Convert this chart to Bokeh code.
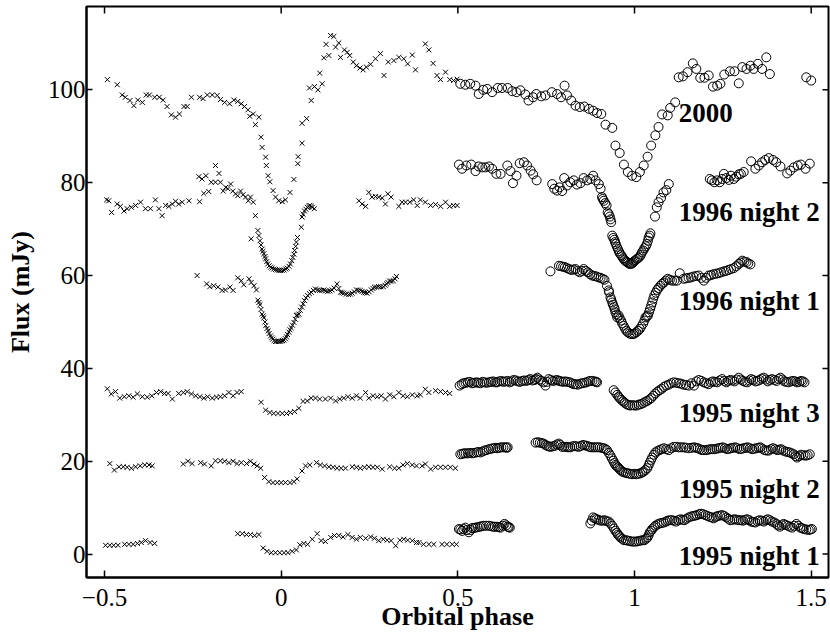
from bokeh.plotting import figure
from bokeh.models import ColumnDataSource, FixedTicker, Label, Range1d
from bokeh.embed import file_html
from bokeh.resources import INLINE

# ---------------- data: (orbital phase, flux mJy) ----------------
# 2000
y2000_cross = [(-0.492,102.2),(-0.464,101.1),(-0.450,98.9),(-0.441,98.4),(-0.428,97.7),(-0.417,96.6),(-0.406,97.8),(-0.393,97.3),(-0.382,98.9),(-0.373,98.9),(-0.358,98.4),(-0.345,98.4),(-0.334,97.8),(-0.323,96.4),(-0.311,94.6),(-0.299,94.1),(-0.288,94.8),(-0.275,96.4),(-0.266,96.4),(-0.254,98.4),(-0.231,98.4),(-0.221,98.1),(-0.209,98.9),(-0.195,98.9),(-0.181,98.8),(-0.172,97.9),(-0.160,97.3),(-0.146,97.0),(-0.134,97.8),(-0.123,97.5),(-0.113,97.0),(-0.104,96.4),(-0.094,95.7),(-0.089,94.3),(-0.079,94.8),(-0.073,92.5),(-0.063,94.1),(-0.057,89.8),(-0.054,87.6),(-0.044,85.5),(-0.042,83.7),(-0.037,81.5),(-0.032,80.2),(-0.023,78.3),(-0.016,76.9),(-0.007,76.1),(0.003,75.9),(0.012,76.3),(0.025,77.9),(0.036,80.7),(0.047,84.1),(0.048,85.6),(0.059,88.5),(0.059,92.8),(0.072,93.8),(0.085,97.7),(0.080,100.4),(0.094,100.7),(0.104,100.0),(0.109,103.6),(0.116,101.3),(0.121,106.9),(0.127,109.8),(0.135,107.4),(0.140,111.7),(0.149,111.5),(0.154,109.2),(0.163,110.1),(0.168,107.0),(0.179,108.6),(0.187,108.1),(0.194,107.4),(0.204,106.0),(0.213,105.2),(0.223,104.7),(0.232,104.3),(0.241,104.9),(0.253,105.5),(0.267,106.7),(0.281,107.8),(0.291,103.1),(0.303,106.0),(0.319,106.3),(0.333,107.0),(0.347,106.7),(0.358,105.6),(0.371,107.5),(0.380,104.3),(0.408,109.9),(0.418,108.6),(0.430,105.7),(0.441,103.1),(0.451,102.2),(0.465,103.8),(0.477,102.2),(0.488,102.0),(0.498,102.3)]
y2000_circle = [(0.507,101.3),(0.521,101.1),(0.535,101.3),(0.550,100.9),(0.559,99.1),(0.572,100.0),(0.583,100.2),(0.597,99.5),(0.613,100.4),(0.625,100.4),(0.641,100.4),(0.654,99.7),(0.666,99.5),(0.677,99.9),(0.691,99.0),(0.700,97.7),(0.713,98.4),(0.722,99.1),(0.736,98.6),(0.748,98.8),(0.766,99.5),(0.781,99.1),(0.792,98.4),(0.802,100.9),(0.809,98.8),(0.821,97.7),(0.833,96.6),(0.845,96.3),(0.858,96.4),(0.871,95.9),(0.883,95.5),(0.894,95.0),(0.906,94.8),(0.918,92.5),(0.937,91.8),(0.946,88.0),(0.958,86.4),(0.970,83.9),(0.981,82.3),(0.993,81.5),(1.005,81.2),(1.015,82.3),(1.026,83.7),(1.037,85.6),(1.047,88.0),(1.059,90.2),(1.068,92.0),(1.078,94.7),(1.094,94.5),(1.101,96.1),(1.115,97.3),(1.125,102.7),(1.137,102.9),(1.150,103.8),(1.165,105.7),(1.175,104.5),(1.186,102.6),(1.198,102.6),(1.210,103.1),(1.222,100.7),(1.234,100.9),(1.243,101.3),(1.254,103.3),(1.270,104.0),(1.283,104.0),(1.295,101.4),(1.305,104.9),(1.317,104.5),(1.328,105.2),(1.337,104.5),(1.349,105.6),(1.361,104.5),(1.373,107.0),(1.383,103.4),(1.486,102.7),(1.500,102.0)]

# 1996 night 2
n962_cross = [(-0.494,76.3),(-0.488,76.1),(-0.480,73.6),(-0.464,75.4),(-0.455,74.9),(-0.445,73.9),(-0.436,74.4),(-0.424,74.7),(-0.412,75.1),(-0.398,75.8),(-0.384,74.4),(-0.370,74.4),(-0.356,76.3),(-0.346,74.4),(-0.337,72.9),(-0.327,75.1),(-0.318,74.9),(-0.308,75.4),(-0.299,76.0),(-0.290,75.4),(-0.280,75.8),(-0.261,76.1),(-0.231,75.9),(-0.233,81.3),(-0.224,80.8),(-0.219,77.7),(-0.213,81.5),(-0.205,78.1),(-0.198,80.1),(-0.186,83.7),(-0.176,82.0),(-0.186,80.1),(-0.172,80.1),(-0.164,78.2),(-0.157,79.0),(-0.151,78.7),(-0.143,79.7),(-0.137,78.2),(-0.129,77.6),(-0.123,77.2),(-0.115,78.2),(-0.108,77.4),(-0.101,76.9),(-0.093,76.1),(-0.087,76.9),(-0.079,75.8),(-0.073,72.9),(-0.085,67.9),(-0.066,69.7),(-0.063,68.6),(-0.060,67.5),(-0.054,65.7),(-0.049,64.7),(-0.044,63.6),(-0.038,62.5),(-0.030,61.8),(-0.021,61.4),(-0.011,61.2),(-0.002,61.1),(0.008,61.2),(0.017,61.6),(0.026,62.5),(0.033,63.9),(0.038,65.4),(0.043,67.2),(0.057,70.4),(0.059,72.6),(0.066,73.9),(0.074,74.7),(0.081,75.1),(0.088,74.7),(0.094,74.4),(0.220,76.1),(0.229,75.4),(0.239,74.9),(0.248,77.9),(0.257,76.9),(0.267,77.0),(0.276,76.9),(0.286,76.7),(0.295,75.4),(0.302,77.6),(0.311,76.9),(0.333,74.9),(0.342,75.8),(0.352,75.8),(0.364,75.8),(0.375,76.3),(0.385,75.1),(0.394,76.3),(0.408,75.8),(0.423,75.1),(0.437,75.3),(0.451,74.9),(0.465,75.8),(0.477,74.9),(0.488,75.1),(0.498,75.1),
              (-0.057,66.6),(-0.052,65.2),(-0.046,64.1),(-0.041,63.0),(-0.034,62.1),(-0.026,61.6),(-0.016,61.3),(-0.006,61.1),(0.003,61.1),(0.013,61.4),(0.022,62.0),(0.030,63.2),(0.036,64.6),(0.041,66.3),(0.046,68.2),(0.062,73.2),(0.070,74.3),(0.078,74.9),(0.085,74.9)]
n962_circle = [(0.503,83.9),(0.512,83.0),(0.524,83.7),(0.538,83.9),(0.550,82.5),(0.559,83.5),(0.569,83.3),(0.578,83.3),(0.588,83.5),(0.597,83.0),(0.609,81.9),(0.621,81.9),(0.640,83.7),(0.649,82.5),(0.656,79.9),(0.666,81.5),(0.675,84.2),(0.687,84.4),(0.696,83.7),(0.706,82.6),(0.713,81.8),(0.723,80.5),(0.767,79.7),(0.773,78.7),(0.781,78.3),(0.788,79.0),(0.795,78.2),(0.801,81.0),(0.809,79.4),(0.818,80.1),(0.828,80.5),(0.837,79.6),(0.847,79.9),(0.856,81.0),(0.866,80.5),(0.875,80.8),(0.883,81.5),(0.890,80.5),(0.899,79.7),(0.904,78.7),(0.908,76.9),(0.913,76.1),(0.921,75.1),(0.924,73.6),(0.930,72.7),(0.934,71.5),(0.937,68.6),(0.943,67.7),(0.947,66.8),(0.953,65.7),(0.958,64.8),(0.965,64.1),(0.971,63.4),(0.979,62.9),(0.986,62.5),(0.993,62.6),(0.999,63.1),(1.007,63.6),(1.015,64.1),(1.021,65.0),(1.028,65.9),(1.035,66.8),(1.040,68.2),(1.045,69.1),(1.058,72.7),(1.063,74.7),(1.068,75.8),(1.075,76.7),(1.082,77.9),(1.090,78.4),(1.097,79.7),(1.213,80.8),(1.219,80.5),(1.226,80.1),(1.234,80.5),(1.241,80.1),(1.248,80.8),(1.253,81.9),(1.260,81.0),(1.267,80.6),(1.273,81.5),(1.281,80.8),(1.288,81.3),(1.295,81.8),(1.301,81.9),(1.309,82.3),(1.330,84.6),(1.342,83.0),(1.352,83.7),(1.361,84.4),(1.370,84.9),(1.380,85.3),(1.392,84.9),(1.401,84.4),(1.413,83.5),(1.432,82.0),(1.441,82.6),(1.451,83.3),(1.462,83.7),(1.471,83.9),(1.484,83.0),(1.496,84.1),
               (0.940,68.1),(0.945,67.2),(0.950,66.2),(0.956,65.2),(0.962,64.4),(0.968,63.7),(0.975,63.1),(0.982,62.7),(0.990,62.5),(0.996,62.8),(1.003,63.3),(1.011,63.8),(1.018,64.5),(1.025,65.4),(1.032,66.3),(1.038,67.5),(1.043,68.6),(0.910,76.5),(0.917,75.6),(0.927,73.2),(0.932,72.1)]

# 1996 night 1
n961_cross = [(-0.238,60.0),(-0.211,58.2),(-0.202,57.6),(-0.191,57.8),(-0.179,57.5),(-0.167,56.8),(-0.158,56.9),(-0.145,57.5),(-0.136,56.8),(-0.123,59.5),(-0.113,58.9),(-0.106,58.0),(-0.091,59.3),(-0.085,58.5),(-0.077,57.8),(-0.070,56.9),(-0.066,54.7),(-0.060,53.7),(-0.054,51.7),(-0.049,50.9),(-0.044,49.2),(-0.037,48.1),(-0.030,47.0),(-0.024,46.3),(-0.016,45.8),(-0.007,45.8),(0.001,45.9),(0.008,46.1),(0.015,46.8),(0.022,47.8),(0.028,48.8),(0.036,49.9),(0.043,51.4),(0.050,51.7),(0.058,53.2),(0.066,54.6),(0.075,55.7),(0.085,56.4),(0.097,57.1),(0.109,56.8),(0.121,56.9),(0.132,56.6),(0.144,56.9),(0.158,58.2),(0.168,56.4),(0.177,56.2),(0.191,55.9),(0.201,56.2),(0.213,56.9),(0.224,56.8),(0.234,56.4),(0.243,56.2),(0.255,56.9),(0.264,57.5),(0.276,57.6),(0.289,57.6),(0.298,58.2),(0.307,58.8),(0.317,58.9),(0.326,59.8),
              (-0.063,54.2),(-0.057,52.7),(-0.051,51.3),(-0.046,50.0),(-0.040,48.6),(-0.034,47.5),(-0.027,46.6),(-0.020,46.0),(-0.012,45.8),(-0.003,45.8),(0.004,46.0),(0.012,46.4),(0.018,47.3),(0.025,48.3),(0.032,49.3),(0.040,50.6),(0.046,51.5),(0.054,52.5),(0.062,53.9),(0.070,55.2),(0.080,56.1),(0.091,56.8),(0.103,56.9),(0.115,56.8),(0.126,56.7),(0.138,56.7),(0.150,57.3),(0.163,57.2),(0.172,56.3),(0.184,56.0),(0.196,56.0),(0.207,56.5),(0.218,56.8),(0.229,56.6),(0.238,56.3),(0.249,56.5),(0.260,57.2),(0.270,57.5),(0.282,57.6),(0.294,57.9),(0.302,58.5),(0.312,58.8),(0.322,59.3)]
n961_circle = [(0.762,60.9),(0.786,62.1),(0.798,61.9),(0.809,61.6),(0.821,61.2),(0.833,61.4),(0.845,60.7),(0.856,61.4),(0.868,60.7),(0.880,60.0),(0.892,59.8),(0.904,59.5),(0.915,59.1),(0.922,57.8),(0.928,56.4),(0.932,55.3),(0.937,54.2),(0.942,53.2),(0.946,52.1),(0.951,51.0),(0.955,51.4),(0.962,50.3),(0.969,49.2),(0.977,48.1),(0.986,47.5),(0.996,47.4),(1.005,47.8),(1.015,48.5),(1.024,49.6),(1.031,51.0),(1.038,51.4),(1.044,52.8),(1.050,54.2),(1.056,55.7),(1.064,56.9),(1.073,57.8),(1.083,58.5),(1.094,59.3),(1.106,58.9),(1.120,58.9),(1.128,60.5),(1.139,59.3),(1.153,59.5),(1.167,59.8),(1.182,60.0),(1.196,58.9),(1.210,60.0),(1.224,60.3),(1.238,60.5),(1.253,60.9),(1.266,61.2),(1.281,61.6),(1.295,62.5),(1.305,63.2),(1.317,62.9),(1.328,62.4),
               (0.927,56.8),(0.934,54.8),(0.939,53.7),(0.944,52.7),(0.949,51.6),(0.958,50.8),(0.965,49.7),(0.973,48.6),(0.981,47.8),(0.991,47.4),(1.000,47.5),(1.010,48.1),(1.019,49.0),(1.028,50.3),(1.035,51.2),(1.041,52.1),(1.047,53.5),(1.053,55.0),(1.060,56.3),(1.068,57.3),(1.078,58.2),(1.088,58.9),(0.792,62.0),(0.803,61.8),(0.815,61.4),(0.827,61.3),(0.839,61.0),(0.851,61.0),(0.862,61.0),(0.874,60.3),(0.886,59.9),(0.898,59.6),(0.910,59.3),(1.100,59.1),(1.113,58.9),(1.146,59.4),(1.160,59.6),(1.175,59.9),(1.189,59.5),(1.203,59.5),(1.217,60.1),(1.231,60.4),(1.245,60.7),(1.259,61.0),(1.273,61.4),(1.288,62.0),(1.300,62.8),(1.311,63.0),(1.322,62.6)]

# 1995 night 3
n953_cross = [(-0.492,35.6),(-0.481,34.5),(-0.469,35.0),(-0.457,33.6),(-0.444,33.9),(-0.431,34.1),(-0.419,33.8),(-0.407,34.5),(-0.393,33.9),(-0.379,33.8),(-0.366,34.1),(-0.353,34.8),(-0.341,35.0),(-0.330,34.6),(-0.320,34.6),(-0.308,33.4),(-0.290,34.6),(-0.277,34.8),(-0.266,35.0),(-0.254,34.5),(-0.242,34.1),(-0.230,33.9),(-0.219,33.6),(-0.208,33.9),(-0.195,33.6),(-0.183,33.8),(-0.172,33.9),(-0.160,34.1),(-0.148,34.8),(-0.136,34.1),(-0.125,34.8),(-0.113,35.0),(-0.057,32.7),(-0.044,31.0),(-0.032,30.5),(-0.021,30.3),(-0.009,30.3),(0.003,30.3),(0.015,30.3),(0.026,30.5),(0.038,30.7),(0.050,31.4),(0.062,32.9),(0.074,33.0),(0.085,33.6),(0.097,33.6),(0.109,33.4),(0.125,33.4),(0.140,33.6),(0.154,33.0),(0.166,33.4),(0.177,33.6),(0.189,33.9),(0.201,33.6),(0.213,34.1),(0.224,33.6),(0.239,34.8),(0.248,33.6),(0.260,34.1),(0.272,33.9),(0.283,34.1),(0.295,33.4),(0.307,34.3),(0.319,33.9),(0.333,34.8),(0.345,34.1),(0.357,33.9),(0.371,34.3),(0.385,34.1),(0.394,34.3),(0.408,35.5),(0.418,34.8),(0.437,35.2),(0.451,35.0),(0.465,34.8),(0.477,34.6)]
n953_circle = [(0.505,36.3),(0.516,36.8),(0.528,37.0),(0.540,36.8),(0.553,37.0),(0.564,36.8),(0.575,37.0),(0.588,37.0),(0.600,37.2),(0.611,37.0),(0.623,37.3),(0.635,37.2),(0.647,37.0),(0.658,37.5),(0.670,37.2),(0.682,37.3),(0.694,37.3),(0.705,37.7),(0.717,37.5),(0.725,38.0),(0.736,37.3),(0.748,36.3),(0.757,37.7),(0.769,37.3),(0.781,37.5),(0.792,37.2),(0.804,37.2),(0.817,37.0),(0.828,36.6),(0.839,36.5),(0.852,36.8),(0.864,37.0),(0.875,37.3),(0.887,37.2),(0.894,37.0),(0.941,35.3),(0.951,34.3),(0.958,33.6),(0.968,32.9),(0.977,32.3),(0.988,32.0),(1.000,32.0),(1.012,32.2),(1.024,32.5),(1.036,33.0),(1.047,33.6),(1.059,34.6),(1.071,35.3),(1.083,36.0),(1.097,36.5),(1.111,37.0),(1.125,36.8),(1.139,36.5),(1.154,36.3),(1.168,36.3),(1.182,37.5),(1.196,37.0),(1.210,36.6),(1.222,37.2),(1.234,37.0),(1.248,37.7),(1.260,37.0),(1.271,37.5),(1.283,37.2),(1.295,38.0),(1.307,37.3),(1.319,37.0),(1.330,37.7),(1.342,37.2),(1.354,37.5),(1.366,38.0),(1.377,37.2),(1.389,37.7),(1.402,37.3),(1.413,38.0),(1.424,37.2),(1.436,37.0),(1.449,37.3),(1.460,37.0),(1.471,37.3),(1.481,37.0),
               (0.511,36.6),(0.522,36.9),(0.534,37.1),(0.546,36.9),(0.558,36.9),(0.570,37.1),(0.581,36.9),(0.594,37.1),(0.606,37.0),(0.617,37.2),(0.629,37.1),(0.641,37.3),(0.652,37.2),(0.664,37.4),(0.676,37.1),(0.688,37.4),(0.700,37.5),(0.711,37.4),(0.721,37.7),(0.731,37.6),(0.742,37.0),(0.752,37.1),(0.763,37.5),(0.775,37.4),(0.787,37.3),(0.798,37.1),(0.810,37.1),(0.822,36.8),(0.834,36.6),(0.846,36.7),(0.858,36.9),(0.870,37.2),(0.881,37.3),(0.891,37.1),
               (0.946,34.8),(0.955,33.9),(0.963,33.2),(0.972,32.6),(0.983,32.1),(0.994,32.1),(1.006,32.0),(1.018,32.3),(1.030,32.8),(1.042,33.3),(1.053,34.1),(1.065,35.0),(1.077,35.6),(1.090,36.3),(1.104,36.8),(1.118,36.9),(1.132,36.7),(1.146,36.4),(1.161,36.8),(1.175,37.2),(1.189,37.3),(1.203,36.8),(1.216,37.0),(1.228,37.1),(1.241,37.4),(1.254,37.3),(1.265,37.3),(1.277,37.4),(1.289,37.6),(1.301,37.6),(1.313,37.1),(1.325,37.4),(1.336,37.5),(1.348,37.3),(1.360,37.8),(1.372,37.6),(1.383,37.5),(1.396,37.5),(1.408,37.7),(1.419,37.6),(1.430,37.1),(1.443,37.2),(1.455,37.2),(1.466,37.1),(1.476,37.2)]

# 1995 night 2
n952_cross = [(-0.485,19.5),(-0.472,18.1),(-0.459,18.8),(-0.447,18.8),(-0.436,18.7),(-0.424,18.5),(-0.412,18.8),(-0.399,19.0),(-0.386,19.2),(-0.374,19.2),(-0.365,19.0),(-0.277,19.4),(-0.264,20.0),(-0.252,19.5),(-0.228,19.7),(-0.217,19.4),(-0.198,19.0),(-0.186,20.1),(-0.172,20.1),(-0.160,20.0),(-0.148,19.7),(-0.136,20.0),(-0.125,19.5),(-0.113,19.7),(-0.098,19.5),(-0.087,20.0),(-0.077,19.4),(-0.068,19.0),(-0.058,18.5),(-0.047,16.5),(-0.035,15.6),(-0.023,15.4),(-0.011,15.4),(0.000,15.4),(0.012,15.4),(0.025,15.4),(0.036,15.6),(0.045,16.2),(0.059,17.9),(0.069,19.0),(0.081,19.2),(0.100,19.7),(0.111,19.2),(0.123,19.0),(0.135,18.8),(0.147,18.7),(0.158,18.5),(0.170,18.5),(0.182,18.5),(0.201,18.8),(0.213,18.7),(0.224,18.5),(0.236,18.7),(0.248,18.8),(0.260,18.7),(0.272,18.7),(0.286,18.3),(0.307,18.8),(0.321,18.5),(0.333,18.5),(0.345,19.2),(0.357,19.5),(0.371,19.2),(0.383,19.0),(0.399,19.0),(0.408,19.4),(0.423,18.3),(0.437,18.7),(0.451,18.7),(0.465,18.7),(0.479,18.7),(0.493,18.5)]
n952_circle = [(0.507,21.5),(0.517,21.7),(0.528,21.7),(0.540,21.7),(0.553,21.9),(0.564,21.9),(0.575,22.3),(0.588,22.6),(0.600,22.8),(0.611,22.8),(0.623,23.0),(0.635,23.0),(0.641,23.0),(0.720,24.0),(0.732,24.0),(0.743,23.8),(0.753,23.3),(0.762,23.1),(0.774,23.3),(0.786,23.8),(0.795,23.1),(0.807,23.1),(0.818,23.0),(0.830,23.3),(0.842,23.1),(0.854,23.5),(0.866,23.3),(0.877,23.0),(0.889,23.0),(0.901,23.0),(0.913,22.8),(0.922,22.4),(0.932,21.2),(0.940,20.1),(0.946,19.2),(0.953,18.7),(0.960,18.1),(0.970,17.6),(0.981,17.4),(0.993,17.2),(1.005,17.2),(1.017,17.4),(1.026,17.8),(1.036,18.5),(1.043,19.7),(1.050,20.8),(1.059,21.9),(1.071,22.4),(1.083,22.8),(1.097,22.4),(1.111,23.1),(1.125,23.0),(1.139,23.0),(1.154,22.8),(1.168,23.0),(1.179,22.8),(1.191,22.4),(1.203,22.4),(1.215,22.6),(1.226,22.6),(1.238,22.8),(1.250,23.0),(1.262,22.6),(1.273,22.8),(1.285,23.0),(1.298,22.6),(1.309,22.8),(1.320,23.0),(1.333,22.6),(1.345,22.8),(1.356,23.0),(1.368,22.4),(1.380,22.3),(1.392,22.8),(1.404,22.4),(1.415,22.6),(1.427,22.1),(1.439,21.9),(1.451,21.5),(1.460,20.8),(1.471,21.4),(1.484,21.2),(1.496,21.5),
               (0.512,21.6),(0.522,21.7),(0.534,21.8),(0.546,21.8),(0.558,22.0),(0.570,22.1),(0.581,22.4),(0.594,22.7),(0.606,22.9),(0.617,22.9),(0.629,23.0),(0.638,22.9),(0.726,24.1),(0.738,23.9),(0.748,23.5),(0.758,23.2),(0.768,23.2),(0.780,23.6),(0.790,23.5),(0.801,23.1),(0.812,23.0),(0.824,23.2),(0.836,23.2),(0.848,23.3),(0.860,23.4),(0.872,23.1),(0.883,23.0),(0.895,23.0),(0.907,22.9),(0.918,22.6),(0.927,21.8),(0.936,20.6),(0.943,19.6),(0.950,18.9),(0.957,18.4),(0.965,17.8),(0.976,17.5),(0.987,17.3),(0.999,17.3),(1.011,17.3),(1.022,17.6),(1.031,18.1),(1.040,19.1),(1.047,20.3),(1.055,21.4),(1.065,22.2),(1.077,22.6),(1.090,22.6),(1.104,22.8),(1.118,23.1),(1.132,23.0),(1.146,22.9),(1.161,22.9),(1.174,22.9),(1.185,22.6),(1.197,22.4),(1.209,22.5),(1.220,22.6),(1.232,22.7),(1.244,22.9),(1.256,22.8),(1.268,22.7),(1.279,22.9),(1.291,22.8),(1.303,22.7),(1.315,22.9),(1.327,22.8),(1.339,22.7),(1.351,22.9),(1.362,22.7),(1.374,22.3),(1.386,22.6),(1.398,22.6),(1.410,22.5),(1.421,22.3),(1.433,22.0),(1.445,21.7),(1.456,21.1),(1.466,21.1),(1.478,21.3),(1.490,21.3)]

# 1995 night 1
n951_cross = [(-0.497,1.9),(-0.485,1.9),(-0.474,1.9),(-0.462,1.9),(-0.443,2.1),(-0.431,2.1),(-0.419,2.1),(-0.407,2.3),(-0.396,2.5),(-0.384,2.9),(-0.371,2.5),(-0.358,2.3),(-0.123,4.4),(-0.110,4.4),(-0.098,4.2),(-0.087,4.2),(-0.075,4.0),(-0.063,4.2),(-0.051,1.3),(-0.040,0.6),(-0.028,0.3),(-0.016,0.3),(-0.004,0.3),(0.008,0.3),(0.019,0.3),(0.031,0.6),(0.043,0.9),(0.053,2.0),(0.064,2.3),(0.075,2.1),(0.088,3.2),(0.102,4.4),(0.113,2.9),(0.125,2.7),(0.140,3.6),(0.151,4.0),(0.163,4.0),(0.175,3.7),(0.189,4.2),(0.201,3.6),(0.213,3.2),(0.224,3.6),(0.239,3.4),(0.253,3.7),(0.264,3.4),(0.276,2.9),(0.289,3.2),(0.300,3.0),(0.311,2.9),(0.324,1.8),(0.336,3.0),(0.347,3.2),(0.358,3.0),(0.371,2.9),(0.383,2.5),(0.390,2.5),(0.403,2.1),(0.418,2.1),(0.432,2.1),(0.455,2.1),(0.469,2.1),(0.484,2.1),(0.496,2.1)]
n951_circle = [(0.503,5.4),(0.512,5.0),(0.521,5.7),(0.531,4.7),(0.540,5.6),(0.550,5.7),(0.562,5.9),(0.573,6.1),(0.588,6.1),(0.600,5.9),(0.611,5.9),(0.621,5.7),(0.632,6.5),(0.641,5.9),(0.647,5.7),(0.875,6.6),(0.883,7.9),(0.892,7.5),(0.904,7.2),(0.915,7.3),(0.927,7.0),(0.937,6.1),(0.946,5.0),(0.953,4.2),(0.960,3.6),(0.970,3.0),(0.981,2.9),(0.993,2.7),(1.005,2.7),(1.017,2.9),(1.028,3.0),(1.037,3.6),(1.043,4.7),(1.050,5.4),(1.059,6.1),(1.071,6.6),(1.083,6.8),(1.094,7.2),(1.106,7.3),(1.118,7.0),(1.130,7.5),(1.141,7.3),(1.153,7.9),(1.166,8.2),(1.177,8.4),(1.188,8.7),(1.200,8.4),(1.213,8.0),(1.224,7.7),(1.235,8.2),(1.248,8.4),(1.260,7.9),(1.271,7.3),(1.283,7.5),(1.295,7.3),(1.307,7.2),(1.319,7.5),(1.330,7.0),(1.342,6.8),(1.354,7.3),(1.366,7.0),(1.377,7.5),(1.389,7.0),(1.402,6.5),(1.411,5.9),(1.422,6.5),(1.434,6.1),(1.446,5.7),(1.458,6.5),(1.469,5.7),(1.479,5.4),(1.493,5.2),(1.502,5.4),
               (0.507,5.3),(0.516,5.4),(0.526,5.2),(0.536,5.2),(0.545,5.6),(0.556,5.8),(0.567,6.0),(0.580,6.1),(0.594,6.0),(0.605,5.9),(0.616,5.8),(0.627,6.1),(0.637,6.2),(0.644,5.8),(0.879,7.2),(0.888,7.7),(0.898,7.4),(0.910,7.2),(0.921,7.1),(0.932,6.6),(0.942,5.5),(0.950,4.6),(0.957,3.9),(0.965,3.3),(0.976,3.0),(0.987,2.8),(0.999,2.7),(1.011,2.8),(1.023,3.0),(1.033,3.3),(1.040,4.1),(1.047,5.0),(1.055,5.8),(1.065,6.4),(1.077,6.7),(1.089,7.0),(1.100,7.3),(1.112,7.2),(1.124,7.3),(1.136,7.4),(1.147,7.6),(1.160,8.1),(1.172,8.3),(1.183,8.6),(1.194,8.6),(1.207,8.2),(1.219,7.9),(1.230,8.0),(1.242,8.3),(1.254,8.2),(1.266,7.6),(1.277,7.4),(1.289,7.4),(1.301,7.3),(1.313,7.4),(1.325,7.3),(1.336,6.9),(1.348,7.1),(1.360,7.2),(1.372,7.3),(1.383,7.3),(1.396,6.8),(1.406,6.2),(1.417,6.2),(1.428,6.3),(1.440,5.9),(1.452,6.1),(1.464,6.1),(1.474,5.6),(1.486,5.3),(1.498,5.3)]

cross_series = [y2000_cross, n962_cross, n961_cross, n953_cross, n952_cross, n951_cross]
circle_series = [y2000_circle, n962_circle, n961_circle, n953_circle, n952_circle, n951_circle]

# curve labels: (text, phase, flux at text baseline)
curve_labels = [("2000", 1.125, 95.1), ("1996 night 2", 1.125, 73.7), ("1996 night 1", 1.125, 54.5),
                ("1995 night 3", 1.125, 30.5), ("1995 night 2", 1.125, 14.0), ("1995 night 1", 1.125, -0.5)]

x_ticks = [-0.5, 0, 0.5, 1, 1.5]
x_tick_labels = {-0.5: "\u22120.5", 0: "0", 0.5: "0.5", 1: "1", 1.5: "1.5"}
y_ticks = [0, 20, 40, 60, 80, 100]
x_title = "Orbital phase"
y_title = "Flux (mJy)"

FONT = "Liberation Serif"
X0, X1 = -0.551, 1.549
Y0, Y1 = -5.04, 117.95
W, H = 830, 635
BL, BR, BT, BB = 86, 2, 6, 58

p = figure(width=W, height=H, output_backend="svg", toolbar_location=None,
           x_range=Range1d(X0, X1), y_range=Range1d(Y0, Y1),
           min_border_left=BL, min_border_right=BR, min_border_top=BT, min_border_bottom=BB)
p.background_fill_color = "white"
p.border_fill_color = "white"
p.grid.visible = False
p.outline_line_color = "black"
p.outline_line_width = 2

for pts in cross_series:
    src = ColumnDataSource(dict(x=[a for a, b in pts], y=[b for a, b in pts]))
    p.scatter("x", "y", source=src, marker="x", size=7, line_color="black", line_width=1)
for pts in circle_series:
    src = ColumnDataSource(dict(x=[a for a, b in pts], y=[b for a, b in pts]))
    p.scatter("x", "y", source=src, marker="circle", size=9, fill_color=None,
              line_color="black", line_width=1)

for ax in (p.xaxis[0], p.yaxis[0]):
    ax.axis_line_width = 2
    ax.axis_line_color = "black"
    ax.major_tick_out = 0
    ax.major_tick_line_width = 1.5
    ax.minor_tick_in = 0
    ax.minor_tick_out = 0
    ax.major_label_text_font = FONT
    ax.major_label_text_font_size = "25px"
    ax.major_label_text_color = "black"
    ax.axis_label_text_font = FONT
    ax.axis_label_text_font_size = "26px"
    ax.axis_label_text_font_style = "bold"
    ax.axis_label_text_color = "black"

xa = p.xaxis[0]
xa.ticker = FixedTicker(ticks=x_ticks)
xa.major_label_overrides = x_tick_labels
xa.major_tick_in = 7
xa.major_label_standoff = 11
xa.axis_label = x_title
xa.axis_label_standoff = -7

ya = p.yaxis[0]
ya.ticker = FixedTicker(ticks=y_ticks)
ya.major_tick_in = 6
ya.major_label_standoff = 1
ya.axis_label = y_title
ya.axis_label_standoff = 10

# mirrored inward ticks on the top and right edges of the frame
frame_w = W - BL - BR
frame_h = H - BT - BB
tick_y = 7 * (Y1 - Y0) / frame_h
tick_x = 6 * (X1 - X0) / frame_w
p.segment(x0=x_ticks, y0=[Y1] * len(x_ticks), x1=x_ticks, y1=[Y1 - tick_y] * len(x_ticks),
          line_color="black", line_width=1.5)
p.segment(x0=[X1] * len(y_ticks), y0=y_ticks, x1=[X1 - tick_x] * len(y_ticks), y1=y_ticks,
          line_color="black", line_width=1.5)

for txt, px, fy in curve_labels:
    p.add_layout(Label(x=px, y=fy, text=txt, text_font=FONT, text_font_size="27px",
                       text_font_style="bold", text_color="black",
                       text_align="left", text_baseline="alphabetic"))

open("out.html", "w").write(file_html(p, INLINE))
